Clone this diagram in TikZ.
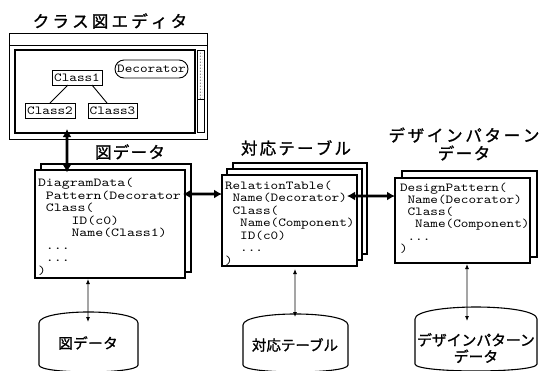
\documentclass[tikz,border=0pt]{standalone}
\usepackage{fontspec}
\usetikzlibrary{arrows.meta,patterns}
\newfontfamily\jpfont[FakeBold=1.2]{Noto Sans CJK JP}
\newfontfamily\monofont{lmmono10-regular}[Extension=.otf, FakeStretch=1.19]
\newfontfamily\monowide{lmmono10-regular}[Extension=.otf, FakeStretch=1.24]
\newcommand\gapw{0pt}
\newcommand\spaced[2]{\renewcommand\gapw{#1}\spacedi#2\relax}
\def\spacedi#1{\ifx#1\relax\else#1\expandafter\spacedii\fi}
\def\spacedii#1{\ifx#1\relax\else\hspace{\gapw}#1\expandafter\spacedii\fi}
\newcommand\firstline{\rule{0pt}{11bp}}
\begin{document}
\lineskiplimit=-100pt
\begin{tikzpicture}[x=1bp,y=-1bp,
  frame/.style={draw=black, line width=1bp, inner sep=0pt, outer sep=0pt, anchor=north west},
  page/.style={draw=black, line width=1.1bp, fill=white, inner sep=0pt, outer sep=0pt, anchor=north west},
  codeblk/.style={anchor=north west, inner sep=0pt, outer sep=0pt, align=left},
  cls/.style={draw=black, line width=0.9bp, inner sep=0pt, outer sep=0pt, minimum height=15bp, font=\monofont\fontsize{12.2bp}{12.2bp}\selectfont},
  title/.style={inner sep=0pt, align=center, font=\jpfont\fontsize{16.5bp}{18bp}\selectfont},
  dblab/.style={inner sep=0pt, align=center, font=\jpfont\fontsize{14.5bp}{17bp}\selectfont},
  bigarrow/.style={line width=2.6bp, {Latex[length=8bp,width=9bp]}-{Latex[length=8bp,width=9bp]}},
  smallarrow/.style={line width=0.8bp, {Latex[length=5bp,width=4bp]}-{Latex[length=5bp,width=4bp]}},
  cyl/.style={draw=black, line width=1.1bp},
]
\useasboundingbox (0,0) rectangle (540,370);
\clip (0,0) rectangle (540,370);

% ---------- class diagram editor window ----------
\node[title] (t-editor) at (110,21) {\spaced{3.2bp}{クラス図エディタ}};
\node[frame, minimum width=197.5bp, minimum height=106.5bp] (win) at (9.5,33) {};
\draw[line width=1bp] ([yshift=-12bp]win.north west) -- ([yshift=-12bp]win.north east);
\node[frame, line width=1.3bp, minimum width=180bp, minimum height=83bp] (canvas) at (15,50) {};
\node[frame, line width=0.8bp, minimum width=7bp, minimum height=82bp] (sbar) at (197,50) {};
\node[frame, draw=none, pattern=dots, minimum width=4.5bp, minimum height=48bp] (thumb) at (198.3,51) {};
\draw[line width=0.8bp] (thumb.south -| sbar.west) -- (thumb.south -| sbar.east);

\node[cls, minimum width=50bp] (c1) at (77,77.5) {Class1};
\node[cls, minimum width=50bp] (c2) at (50,110.5) {Class2};
\node[cls, minimum width=49bp] (c3) at (112.5,110.5) {Class3};
\node[cls, rounded corners=9bp, minimum width=73bp, minimum height=18bp] (dec) at (151.5,69) {Decorator};
\draw[line width=0.9bp] ([xshift=16bp]c1.south west) -- ([xshift=25bp]c2.north west);
\draw[line width=0.9bp] ([xshift=40bp]c1.south west) -- ([xshift=19bp]c3.north west);

% ---------- titles ----------
\node[title] (t-dd) at (130,152) {\spaced{1.3bp}{図データ}};
\node[title] (t-rt) at (296,148) {\spaced{2.2bp}{対応テーブル}};
\node[title] (t-dp) at (464,144) {\spaced{2.7bp}{デザインパターン}\\\spaced{1.5bp}{データ}};

% ---------- DiagramData ----------
\node[page, minimum width=150bp, minimum height=108bp] (dd-back) at (41,164) {};
\node[page, minimum width=150bp, minimum height=108bp] (dd) at (35,170) {};
\node[codeblk, font=\monowide\fontsize{12.2bp}{12.5bp}\selectfont] (dd-text) at (38,175.5)
  {\firstline DiagramData(\\
   \hspace*{7.9bp}Pattern(Decorator\\
   \hspace*{7.9bp}Class(\\
   \hspace*{33.5bp}ID(c0)\\
   \hspace*{33.5bp}Name(Class1)\\
   \hspace*{7.9bp}...\\
   \hspace*{7.9bp}...\\
   )};

% ---------- RelationTable ----------
\node[page, minimum width=134bp, minimum height=91bp] (rt-back) at (233,163) {};
\node[page, minimum width=135bp, minimum height=91bp] (rt-mid) at (227,169) {};
\node[page, minimum width=135bp, minimum height=91bp] (rt) at (222,175) {};
\node[codeblk, font=\monofont\fontsize{12.2bp}{12.5bp}\selectfont] (rt-text) at (225,178)
  {\firstline RelationTable(\\
   \hspace*{7.6bp}Name(Decorator)\\
   \hspace*{7.6bp}Class(\\
   \hspace*{15.2bp}Name(Component)\\
   \hspace*{15.2bp}ID(c0)\\
   \hspace*{15.2bp}...\\
   )};

% ---------- DesignPattern ----------
\node[page, minimum width=135bp, minimum height=86bp] (dp-back) at (402,171) {};
\node[page, minimum width=135bp, minimum height=85bp] (dp) at (395,178) {};
\node[codeblk, font=\monofont\fontsize{12.2bp}{12.3bp}\selectfont] (dp-text) at (400,180)
  {\firstline DesignPattern(\\
   \hspace*{7.6bp}Name(Decorator)\\
   \hspace*{7.6bp}Class(\\
   \hspace*{15.2bp}Name(Component)\\
   \hspace*{7.6bp}...\\
   )};

% ---------- thick arrows ----------
\draw[bigarrow] ([xshift=52bp,yshift=4bp]canvas.south west) -- ([xshift=32bp,yshift=-2.5bp]dd.north west);
\draw[bigarrow] ([shift={(-2bp,-24bp)}]dd.north east) -- ([yshift=-19bp]rt.north west);
\draw[bigarrow] ([shift={(-10bp,-21bp)}]rt.north east) -- ([yshift=-18bp]dp.north west);

% ---------- databases ----------
\draw[cyl] (39,365) -- (39,323) .. controls (39,308.3) and (138,308.3) .. (138,323) -- (138,365)
  .. controls (138,374.3) and (39,374.3) .. (39,365);
\draw[cyl] (243,365) -- (243,325) .. controls (243,310.3) and (348,310.3) .. (348,325) -- (348,365)
  .. controls (348,374.3) and (243,374.3) .. (243,365);
\draw[cyl] (415,364) -- (415,319) .. controls (415,303) and (537,303) .. (537,319) -- (537,364)
  .. controls (537,373.3) and (415,373.3) .. (415,364);
\coordinate (dbA) at (88,322);
\coordinate (dbB) at (295,317);
\coordinate (dbC) at (467,321);
\node[dblab] (lA) at (88,343) {\spaced{0.5bp}{図データ}};
\node[dblab] (lB) at (295,345) {対応テーブル};
\node[dblab, font=\jpfont\fontsize{14.8bp}{16.5bp}\selectfont] (lC) at (476,348) {デザインパターン\\データ};

% ---------- thin arrows ----------
\draw[smallarrow] ([xshift=53bp,yshift=-1bp]dd.south west) -- (dbA);
\draw[smallarrow] ([xshift=73bp,yshift=-3bp]rt.south west) -- (dbB);
\draw[smallarrow] ([xshift=72bp,yshift=-1bp]dp.south west) -- (dbC);
\end{tikzpicture}
\end{document}
